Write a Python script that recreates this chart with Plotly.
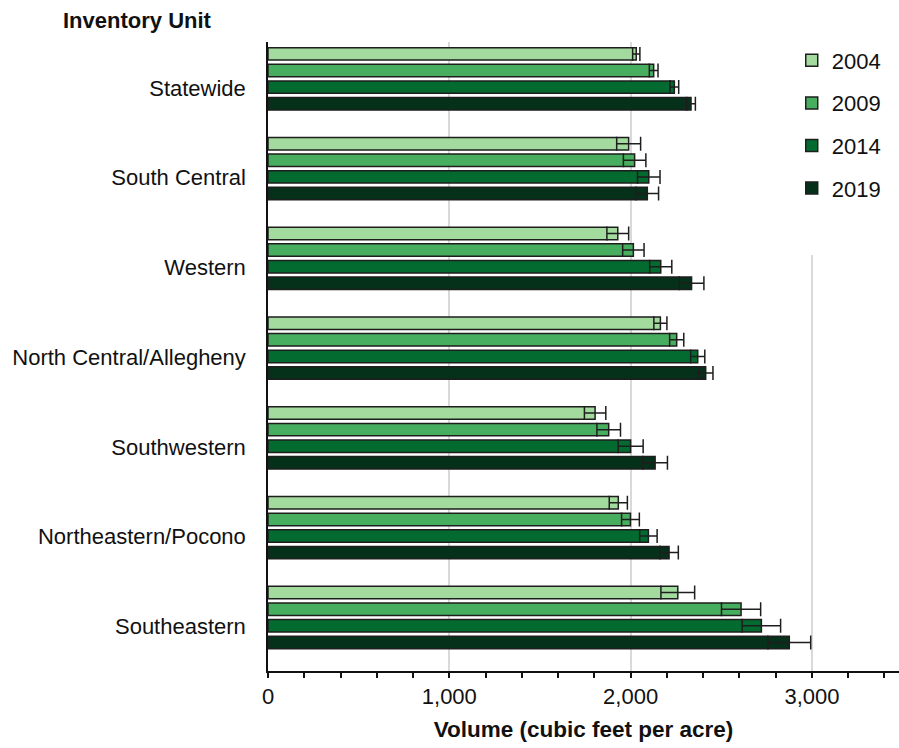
import plotly.graph_objects as go

# Inventory units, top to bottom
units = ["Statewide", "South Central", "Western", "North Central/Allegheny",
         "Southwestern", "Northeastern/Pocono", "Southeastern"]
years = ["2004", "2009", "2014", "2019"]

# Mean volume (cubic feet per acre) per unit and inventory year
vol_2004 = [2031, 1989, 1929, 2164, 1804, 1932, 2260]
vol_2009 = [2127, 2022, 2015, 2254, 1879, 1999, 2609]
vol_2014 = [2241, 2100, 2166, 2370, 2000, 2098, 2721]
vol_2019 = [2333, 2092, 2336, 2414, 2135, 2212, 2875]

# Sampling error (cubic feet per acre)
err_2004 = [20, 66, 60, 36, 59, 50, 93]
err_2009 = [24, 62, 59, 39, 65, 49, 108]
err_2014 = [24, 62, 61, 39, 69, 48, 106]
err_2019 = [24, 62, 68, 40, 68, 51, 118]

values = [vol_2004, vol_2009, vol_2014, vol_2019]
errors = [err_2004, err_2009, err_2014, err_2019]
colors = ["#a3da9d", "#47ae60", "#036b2f", "#05311a"]

FONT = "Arial, Liberation Sans, sans-serif"

fig = go.Figure()
for yr, vals, errs, col in zip(years, values, errors, colors):
    fig.add_trace(go.Bar(
        name=yr, y=units, x=vals, orientation="h",
        marker=dict(color=col, line=dict(color="#1e1e1e", width=1.5)),
        error_x=dict(type="data", array=errs, visible=True,
                     color="#1e1e1e", thickness=1.5, width=7),
        legendgroup=yr,
    ))

fig.update_layout(
    width=899, height=748,
    margin=dict(l=268, r=0, t=42, b=77),
    paper_bgcolor="white", plot_bgcolor="white",
    barmode="group", bargap=0.26, bargroupgap=0.25,
    font=dict(family=FONT, size=22, color="#111"),
    title=dict(text="<b>Inventory Unit</b>", x=63 / 899, xanchor="left",
               xref="container", y=1 - 20 / 748, yanchor="middle",
               yref="container", font=dict(size=22, family=FONT)),
    legend=dict(x=0.83, xanchor="left", y=1.004, yanchor="top",
                bgcolor="rgba(0,0,0,0)", tracegroupgap=11,
                font=dict(size=22, family=FONT), itemwidth=30),
    showlegend=True,
)

fig.update_xaxes(
    range=[0, 3480], dtick=1000, tickformat=",d",
    showgrid=True, gridcolor="#d9d9d9", gridwidth=1.5,
    showline=True, linecolor="#111", linewidth=1.5,
    ticks="outside", ticklen=5, tickwidth=1.5, tickcolor="#111",
    minor=dict(dtick=200, ticks="outside", ticklen=5, tickwidth=1.5,
               tickcolor="#111", showgrid=False),
    tickfont=dict(size=22, family=FONT),
    title=dict(text="<b>Volume (cubic feet per acre)</b>", standoff=13,
               font=dict(size=22.5, family=FONT)),
    zeroline=False,
)
fig.update_yaxes(
    categoryorder="array", categoryarray=units,
    range=[6.596, -0.41],
    showline=True, linecolor="#111", linewidth=1.5,
    ticks="", ticklabelstandoff=16, ticklabelshift=-9,
    tickfont=dict(size=22, family=FONT),
    showgrid=False,
)

# White panel behind the legend hides the 3,000 gridline there
fig.add_shape(type="rect", xref="x", yref="paper",
              x0=2900, x1=3480, y0=(671 - 255) / 629, y1=1.0,
              fillcolor="white", line=dict(width=0), layer="above")

fig.write_html("out.html")
